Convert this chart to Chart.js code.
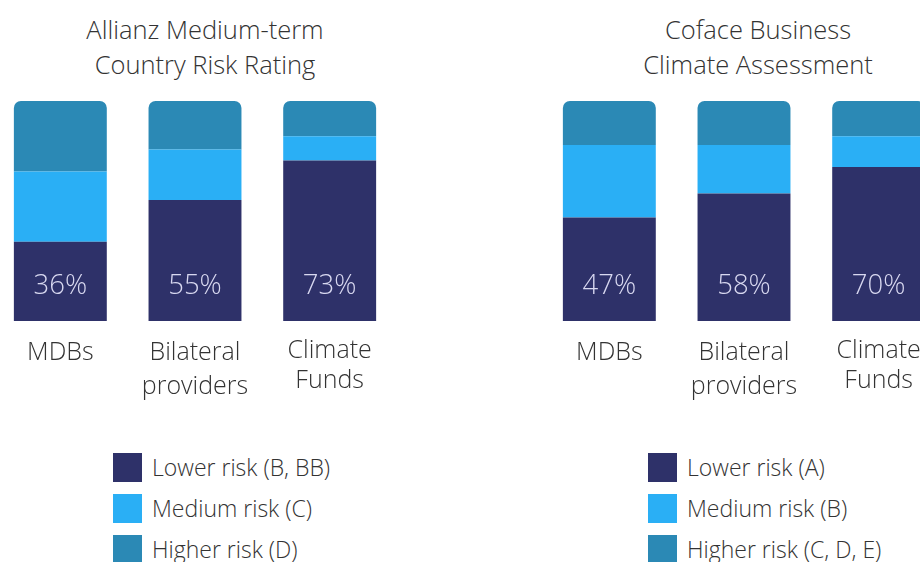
<!DOCTYPE html>
<html>
<head>
<meta charset="utf-8">
<script src="https://cdn.jsdelivr.net/npm/chart.js@4.4.1/dist/chart.umd.min.js"></script>
<style>
    body { margin: 0; background: #fff; font-family: "Open Sans", sans-serif; }
    #page { position: relative; width: 920px; height: 562px; overflow: hidden; }
    .box { position: absolute; top: 0; width: 404px; height: 420px; }
    .title { position: absolute; top: 12px; width: 320px; text-align: center; font-size: 25.5px; font-weight: 300; line-height: 35px; color: #333; }
    .legend { position: absolute; top: 453px; font-size: 23px; font-weight: 300; color: #333; }
    .legend .item { height: 41px; display: flex; align-items: flex-start; }
    .legend .sq { width: 29px; height: 29px; margin-right: 10px; }
    .legend .txt { line-height: 29px; }
</style>
</head>
<body>
<div id="page">
    <div class="title" id="titleLeft" style="left:45px"></div>
    <div class="title" id="titleRight" style="left:598px"></div>
    <div class="box" style="left:-7px"><canvas id="allianz"></canvas></div>
    <div class="box" style="left:542px"><canvas id="coface"></canvas></div>
    <div class="legend" id="legendLeft" style="left:113px"></div>
    <div class="legend" id="legendRight" style="left:648px"></div>
</div>
<script>
// Dados (percentuais por tipo de provedor)
const categorias = [['MDBs'], ['Bilateral', 'providers'], ['Climate', 'Funds']];

const tituloAllianz = ['Allianz Medium-term', 'Country Risk Rating'];
const allianzBaixo = [36, 55, 73];
const allianzMedio = [32, 23, 11];
const allianzAlto = [32, 22, 16];
const legendaAllianz = ['Lower risk (B, BB)', 'Medium risk (C)', 'Higher risk (D)'];

const tituloCoface = ['Coface Business', 'Climate Assessment'];
const cofaceBaixo = [47, 58, 70];
const cofaceMedio = [33, 22, 14];
const cofaceAlto = [20, 20, 16];
const legendaCoface = ['Lower risk (A)', 'Medium risk (B)', 'Higher risk (C, D, E)'];

const CORES = ['#2e3169', '#2aaff5', '#2b89b5'];

// Escreve o percentual dentro da parte de baixo de cada barra
const rotuloPercentual = {
    id: 'rotuloPercentual',
    afterDatasetsDraw(chart) {
        const ctx = chart.ctx;
        const meta = chart.getDatasetMeta(0);
        ctx.save();
        ctx.fillStyle = '#d8d8f0';
        ctx.font = '300 27.5px "Open Sans"';
        ctx.textAlign = 'center';
        ctx.textBaseline = 'middle';
        meta.data.forEach((barra, i) => {
            ctx.fillText(chart.data.datasets[0].data[i] + '%', barra.x, barra.base - 35);
        });
        ctx.restore();
    }
};

function criarGrafico(id, baixo, medio, alto, legenda) {
    const canvas = document.getElementById(id);
    if (!canvas) return;

    return new Chart(canvas, {
        type: 'bar',
        data: {
            labels: categorias,
            datasets: [
                { label: legenda[0], data: baixo, backgroundColor: CORES[0] },
                { label: legenda[1], data: medio, backgroundColor: CORES[1] },
                {
                    label: legenda[2], data: alto, backgroundColor: CORES[2],
                    borderRadius: { topLeft: 7, topRight: 7, bottomLeft: 0, bottomRight: 0 },
                    borderSkipped: 'bottom'
                }
            ]
        },
        options: {
            responsive: true,
            maintainAspectRatio: false,
            animation: false,
            layout: { padding: { top: 101, left: 0, right: 0, bottom: 0 } },
            datasets: { bar: { barPercentage: 0.69, categoryPercentage: 1, borderWidth: 0 } },
            plugins: { legend: { display: false }, tooltip: { enabled: false } },
            scales: {
                x: {
                    stacked: true,
                    grid: { display: false },
                    border: { display: false },
                    ticks: {
                        color: '#333',
                        // "Climate Funds" fica um pouco mais alto e mais junto no original
                        font: ctx => ({
                            family: 'Open Sans', size: 25, weight: 300,
                            lineHeight: ctx.index === 2 ? '30px' : '34px'
                        }),
                        padding: 7,
                        maxRotation: 0,
                        autoSkip: false
                    },
                    afterFit(scale) { scale.height = 99; }
                },
                y: { stacked: true, min: 0, max: 100, display: false }
            }
        },
        plugins: [rotuloPercentual]
    });
}

function montarTitulo(id, linhas) {
    document.getElementById(id).innerHTML = linhas.join('<br>');
}

function montarLegenda(id, textos) {
    const el = document.getElementById(id);
    textos.forEach((t, i) => {
        el.innerHTML += '<div class="item"><span class="sq" style="background:' + CORES[i] + '"></span><span class="txt">' + t + '</span></div>';
    });
}

montarTitulo('titleLeft', tituloAllianz);
montarTitulo('titleRight', tituloCoface);
criarGrafico('allianz', allianzBaixo, allianzMedio, allianzAlto, legendaAllianz);
criarGrafico('coface', cofaceBaixo, cofaceMedio, cofaceAlto, legendaCoface);
montarLegenda('legendLeft', legendaAllianz);
montarLegenda('legendRight', legendaCoface);
</script>
</body>
</html>
